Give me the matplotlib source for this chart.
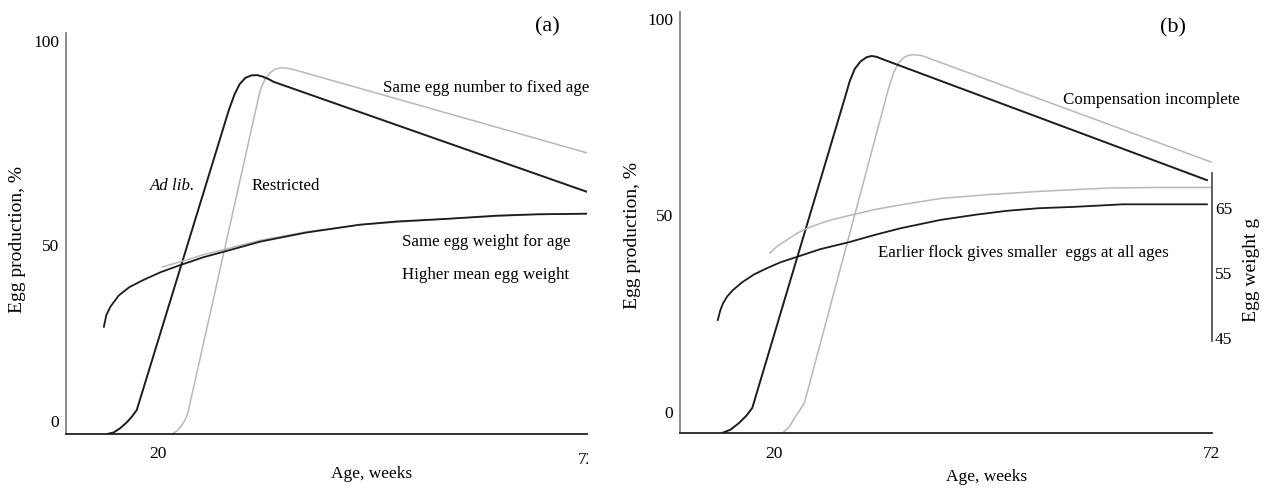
import matplotlib
matplotlib.use('Agg')
from matplotlib import pyplot as plt
from matplotlib import transforms

plt.rcParams['font.family'] = ['Liberation Serif', 'DejaVu Serif']

# ---- panel (a): ad lib vs restricted, same egg number to fixed age ----
a_adlib_wk = [13.8, 14.6, 15.4, 16.2, 16.8, 17.4, 28.6, 29.3, 29.9, 30.6, 31.3, 32.0, 32.7, 33.4, 34.0, 72.1]
a_adlib_pct = [0, 0.4, 1.5, 3.0, 4.4, 6.1, 82.5, 86.5, 89.0, 90.6, 91.2, 91.3, 90.9, 90.3, 89.6, 61.6]
a_restr_wk = [21.7, 22.3, 22.9, 23.3, 23.6, 32.4, 33.0, 33.6, 34.2, 34.8, 35.5, 36.3, 72.1]
a_restr_pct = [0, 0.8, 2.3, 3.7, 5.3, 87.5, 90.3, 91.9, 92.8, 93.1, 93.1, 92.8, 71.5]
a_wt_adlib_wk = [13.4, 13.7, 14.2, 15.2, 16.5, 18.2, 20.3, 22.7, 25.5, 28.7, 32.4, 38.0, 44.5, 49.0, 55.0, 61.2, 66.0, 72.1]
a_wt_adlib_g = [46.7, 48.5, 49.8, 51.5, 52.8, 53.9, 55.1, 56.2, 57.4, 58.5, 59.8, 61.2, 62.4, 62.9, 63.3, 63.8, 64.0, 64.1]
a_wt_restr_wk = [20.5, 22.7, 25.5, 28.7, 32.4, 38.0, 44.5, 55.0, 66.0, 72.1]
a_wt_restr_g = [55.9, 56.7, 57.8, 58.8, 60.0, 61.3, 62.4, 63.3, 64.0, 64.1]

# ---- panel (b): earlier vs later flock, compensation incomplete ----
b_early_wk = [13.8, 14.8, 15.8, 16.7, 17.4, 28.4, 29.0, 29.6, 30.3, 31.0, 31.6, 32.2, 32.8, 71.5]
b_early_pct = [0, 0.8, 2.4, 4.2, 6.1, 81.4, 85.6, 88.6, 90.4, 91.4, 91.7, 91.5, 91.0, 61.5]
b_late_wk = [21.0, 21.8, 22.5, 23.1, 23.6, 33.6, 34.2, 34.8, 35.4, 36.0, 36.6, 37.2, 37.7, 72.0]
b_late_pct = [0, 1.5, 3.9, 5.7, 7.3, 83.7, 87.6, 90.0, 91.3, 91.9, 92.0, 91.9, 91.7, 65.9]
b_wt_early_wk = [13.3, 13.6, 13.9, 14.4, 15.1, 16.2, 17.6, 19.2, 20.8, 22.7, 25.5, 29.0, 32.0, 35.0, 39.8, 44.0,
                 47.7, 51.5, 55.6, 61.5, 71.5]
b_wt_early_g = [47.8, 49.3, 50.3, 51.4, 52.4, 53.6, 54.8, 55.8, 56.7, 57.5, 58.7, 59.8, 60.9, 61.9, 63.2, 64.0,
                64.6, 65.0, 65.2, 65.6, 65.6]
b_wt_late_wk = [19.5, 20.4, 21.5, 22.8, 24.3, 26.5, 29.0, 32.0, 35.0, 39.8, 45.5, 51.7, 59.6, 66.0, 72.0]
b_wt_late_g = [58.1, 59.2, 60.1, 61.2, 62.1, 63.1, 63.9, 64.8, 65.5, 66.5, 67.1, 67.6, 68.1, 68.2, 68.2]

pct_ticks = [0, 50, 100]
wt_ticks = [45, 55, 65]

BLACK = '#1c1c1c'
GREY = '#b8b8b8'


def style_axes(ax, ylim, tick_nudge):
    ax.set_xlim(8.8, 72.1)
    ax.set_ylim(*ylim)
    ax.spines['top'].set_visible(False)
    ax.spines['right'].set_visible(False)
    ax.spines['left'].set_color('#777777')
    ax.spines['bottom'].set_color('#222222')
    ax.spines['left'].set_linewidth(1.2)
    ax.spines['bottom'].set_linewidth(1.3)
    ax.set_yticks(pct_ticks)
    ax.set_yticklabels([str(t) for t in pct_ticks])
    ax.tick_params(length=0, labelsize=12.5)
    ax.tick_params(axis='x', pad=9)
    ax.tick_params(axis='y', pad=5)
    # the hand-drawn tick labels do not sit exactly on their values
    for lbl in ax.get_yticklabels():
        dy = tick_nudge.get(lbl.get_text(), 0) * 0.72
        lbl.set_transform(lbl.get_transform() + transforms.ScaledTranslation(0, dy / 72, fig.dpi_scale_trans))


fig = plt.figure(figsize=(12.73, 4.9), dpi=100)
ax_a = fig.add_axes([66 / 1273, 1 - 434 / 490, 521 / 1273, 401 / 490])
ax_b = fig.add_axes([680 / 1273, 1 - 433 / 490, 532 / 1273, 421 / 490])

# ---------- panel (a) ----------
ax_a.plot(a_restr_wk, a_restr_pct, color=GREY, lw=1.1)
ax_a.plot(a_adlib_wk, a_adlib_pct, color=BLACK, lw=1.4)
style_axes(ax_a, (0, 102.0), {'0': 13, '50': -8})
ax_a.set_xticks([20])
ax_a.set_xticklabels(['20'])
lbl72 = ax_a.text(72, -0.045, '72', transform=ax_a.get_xaxis_transform(), ha='center', va='top', fontsize=12.5)
lbl72.set_clip_box(transforms.TransformedBbox(transforms.Bbox.from_extents(0, 0, 587.5 / 1273, 1), fig.transFigure))
lbl72.set_clip_on(True)

ax_aw = ax_a.twinx()
ax_aw.set_ylim(30.2, 91.9)
ax_aw.plot(a_wt_restr_wk, a_wt_restr_g, color=GREY, lw=1.1)
ax_aw.plot(a_wt_adlib_wk, a_wt_adlib_g, color=BLACK, lw=1.3)
ax_aw.axis('off')

ax_a.set_xlabel('Age, weeks', fontsize=12.5)
ax_a.xaxis.set_label_coords(0.587, -0.080)
ax_a.set_ylabel('Egg production, %', fontsize=14)
ax_a.yaxis.set_label_coords(-0.076, 0.484)

ax_a.text(67.3, 103.6, '(a)', fontsize=16, ha='center', va='center')
ax_a.text(47.3, 88.0, 'Same egg number to fixed age', fontsize=12.2, va='center')
ax_a.text(19.0, 63.1, 'Ad lib.', fontsize=12.2, va='center', style='italic')
ax_a.text(31.3, 63.1, 'Restricted', fontsize=12.2, va='center')
ax_a.text(49.6, 48.9, 'Same egg weight for age', fontsize=12.2, va='center')
ax_a.text(49.6, 40.5, 'Higher mean egg weight', fontsize=12.2, va='center')

# ---------- panel (b) ----------
ax_b.plot(b_late_wk, b_late_pct, color=GREY, lw=1.1)
ax_b.plot(b_early_wk, b_early_pct, color=BLACK, lw=1.4)
style_axes(ax_b, (0, 102.4), {'0': 21, '50': 12, '100': 3})
ax_b.set_xticks([20, 72])
ax_b.set_xticklabels(['20', '72'])

ax_bw = ax_b.twinx()
ax_bw.set_ylim(30.4, 95.2)
ax_bw.plot(b_wt_late_wk, b_wt_late_g, color=GREY, lw=1.1)
ax_bw.plot(b_wt_early_wk, b_wt_early_g, color=BLACK, lw=1.3)
for side in ['top', 'left', 'bottom']:
    ax_bw.spines[side].set_visible(False)
ax_bw.spines['right'].set_bounds(44.5, 70.4)
ax_bw.spines['right'].set_color('#444444')
ax_bw.spines['right'].set_linewidth(1.2)
ax_bw.set_yticks(wt_ticks)
ax_bw.set_yticklabels([str(t) for t in wt_ticks])
ax_bw.tick_params(length=0, labelsize=12.5, pad=2)
ax_bw.set_ylabel('Egg weight g', fontsize=14)
ax_bw.yaxis.set_label_coords(1.058, 0.387)

ax_b.set_xlabel('Age, weeks', fontsize=12.5)
ax_b.xaxis.set_label_coords(0.577, -0.086)
ax_b.set_ylabel('Egg production, %', fontsize=14)
ax_b.yaxis.set_label_coords(-0.074, 0.47)

ax_b.text(67.5, 98.5, '(b)', fontsize=16, ha='center', va='center')
ax_b.text(54.4, 81.0, 'Compensation incomplete', fontsize=12.2, va='center')
ax_b.text(32.3, 43.8, 'Earlier flock gives smaller  eggs at all ages', fontsize=12.2, va='center')

plt.savefig('out.png', dpi=100)
